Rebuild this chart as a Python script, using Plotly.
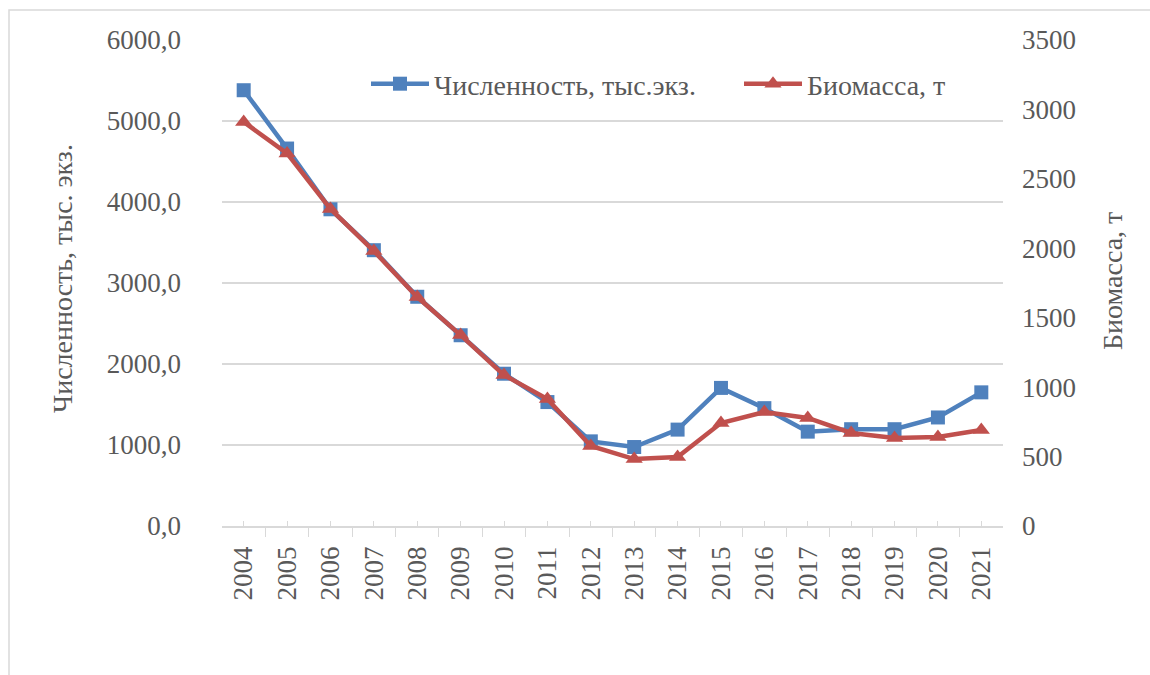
import plotly.graph_objects as go

years = list(range(2004, 2022))
year_labels = [str(y) for y in years]

# Численность, тыс. экз. (left axis)
abundance = [5380, 4660, 3910, 3405, 2830, 2355, 1880, 1530, 1045, 975,
             1190, 1705, 1455, 1165, 1195, 1195, 1340, 1650]
# Биомасса, т (right axis)
biomass = [2910, 2683, 2283, 1980, 1649, 1375, 1087, 915, 576, 482,
           497, 742, 821, 778, 670, 634, 641, 691]

left_ticks = [0, 1000, 2000, 3000, 4000, 5000, 6000]
right_ticks = [0, 500, 1000, 1500, 2000, 2500, 3000, 3500]

FONT = "Liberation Serif"
TXT = "#595959"
GRID = "#D9D9D9"
FS_TICK = 27
FS_TEXT = 28

W, H = 1150, 675
L, R, T, B = 222, 147, 40, 149
pw, ph = W - L - R, H - T - B


def px_x(x):
    return (x - L) / pw


def px_y(y):
    return (H - B - y) / ph


fig = go.Figure()
fig.add_trace(go.Scatter(
    x=years, y=abundance, name="Численность, тыс.экз.",
    mode="lines+markers",
    line=dict(color="#4F81BD", width=4.5),
    marker=dict(symbol="square", size=14, color="#4F81BD"),
    yaxis="y", legend="legend"))
fig.add_trace(go.Scatter(
    x=years, y=biomass, name="Биомасса, т",
    mode="lines+markers",
    line=dict(color="#C0504D", width=4.5),
    marker=dict(symbol="triangle-up", size=15, color="#C0504D"),
    yaxis="y2", legend="legend2"))

legend_style = dict(orientation="h", xanchor="left", yanchor="top",
                    font=dict(size=FS_TEXT, color=TXT, family=FONT),
                    bgcolor="rgba(0,0,0,0)", itemwidth=58)

fig.update_layout(
    width=W, height=H,
    margin=dict(l=L, r=R, t=T, b=B),
    paper_bgcolor="white", plot_bgcolor="white",
    separators=", ",
    font=dict(family=FONT, size=FS_TICK, color=TXT),
    showlegend=True,
    legend=dict(x=px_x(366), y=px_y(59), **legend_style),
    legend2=dict(x=px_x(739), y=px_y(59), **legend_style),
    xaxis=dict(
        range=[2003.5, 2021.5], tickmode="array", tickvals=years,
        ticktext=year_labels, tickangle=-90,
        ticks="inside", ticklen=5, tickcolor=GRID, tickwidth=1.3,
        showline=True, linecolor=GRID, linewidth=1.5,
        showgrid=False, zeroline=False, ticklabelstandoff=8,
        minor=dict(ticks="outside", ticklen=9, tick0=2003.5, dtick=1,
                   tickcolor=GRID, tickwidth=1.3, showgrid=False),
        tickfont=dict(size=FS_TICK, color=TXT, family=FONT)),
    yaxis=dict(
        range=[0, 6000], tickmode="array", tickvals=left_ticks,
        tickformat=".1f", showgrid=True, gridcolor=GRID, gridwidth=1.5,
        zeroline=False, showline=False, ticks="", ticklabelstandoff=40,
        tickfont=dict(size=FS_TICK, color=TXT, family=FONT)),
    yaxis2=dict(
        range=[0, 3500], tickmode="array", tickvals=right_ticks,
        tickformat="d", overlaying="y", side="right", showgrid=False,
        zeroline=False, showline=False, ticks="", ticklabelstandoff=18,
        tickfont=dict(size=FS_TICK, color=TXT, family=FONT)),
    annotations=[
        dict(text="Численность, тыс. экз.", textangle=-90, xref="paper",
             yref="paper", x=px_x(62), y=px_y(279), xanchor="center",
             yanchor="middle", showarrow=False,
             font=dict(size=FS_TEXT, color=TXT, family=FONT)),
        dict(text="Биомасса, т", textangle=-90, xref="paper",
             yref="paper", x=px_x(1112), y=px_y(281), xanchor="center",
             yanchor="middle", showarrow=False,
             font=dict(size=FS_TEXT, color=TXT, family=FONT)),
    ],
    shapes=[
        dict(type="rect", xref="paper", yref="paper", layer="below",
             x0=px_x(9), y0=px_y(700), x1=px_x(1170), y1=px_y(10),
             line=dict(color=GRID, width=1.5), fillcolor="rgba(0,0,0,0)"),
    ],
)

fig.write_html("out.html")
